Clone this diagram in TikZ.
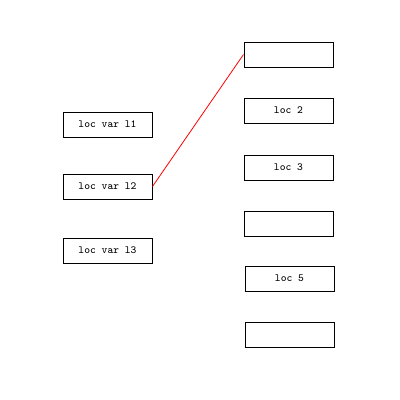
\documentclass[tikz,border=0pt]{standalone}
\begin{document}
\begin{tikzpicture}[x=0.75pt,y=-0.75pt,
  locbox/.style={draw=black, line width=0.75pt, minimum width=66.75pt, minimum height=18.75pt, inner sep=0pt, font=\ttfamily\fontsize{8.2}{9}\selectfont}]
\useasboundingbox (0,0) rectangle (400,400);
\node[locbox] (l1) at (107.5,124.5) {loc var l1};
\node[locbox] (l2) at (107.5,186.5) {loc var l2};
\node[locbox] (l3) at (107.5,250.5) {loc var l3};
\node[locbox] (r1) at (288.5,54.5) {};
\node[locbox] (r2) at (288.5,110.5) {loc 2};
\node[locbox] (r3) at (288.5,167.5) {loc 3};
\node[locbox] (r4) at (288.5,223.5) {};
\node[locbox] (r5) at (289.5,278.5) {loc 5};
\node[locbox] (r6) at (289.5,334.5) {};
\draw[red, line width=0.6pt] (l2.east) -- (r1.west);
\end{tikzpicture}
\end{document}
